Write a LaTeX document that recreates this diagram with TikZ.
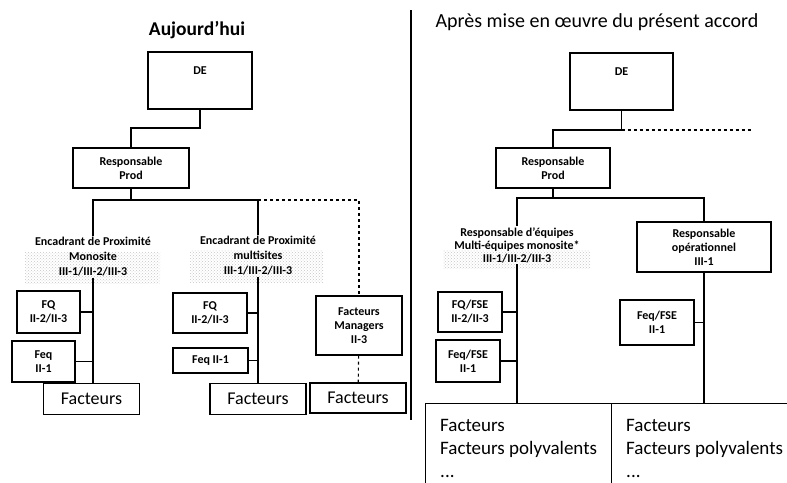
\documentclass[tikz,border=0pt]{standalone}
\usepackage{fontspec}
\setmainfont{Carlito}
\usetikzlibrary{patterns}

\tikzset{
  box/.style={draw, line width=1.3pt, align=center, inner sep=1pt,
    font=\bfseries\fontsize{12}{14}\selectfont},
  lbl/.style={align=center, inner sep=1pt, font=\bfseries\fontsize{12}{15}\selectfont},
  dots/.style={pattern=crosshatch dots, pattern color=gray!45},
  fact/.style={draw, line width=1.3pt, minimum width=96pt, minimum height=31pt,
    font=\fontsize{18}{20}\selectfont},
  team/.style={draw, line width=1.3pt, anchor=north west, align=left,
    inner xsep=7pt, inner ysep=4pt, font=\fontsize{19}{23}\selectfont},
  link/.style={line width=1.1pt}
}

\begin{document}
\begin{tikzpicture}[x=1pt,y=-1pt]
\useasboundingbox (0,0) rectangle (787,482);

% Aujourd'hui
\node (title1) at (197,30) {\bfseries\fontsize{19.5}{22}\selectfont Aujourd’hui};
\node[box, minimum width=104pt, minimum height=57pt] (de1) at (200,80.5) {DE\\[6pt]};
\node[box, minimum width=116pt, minimum height=40pt] (rp1) at (131,168) {Responsable\\Prod};
\fill[dots] (25,252) rectangle (160,283);
\fill[dots] (190,250) rectangle (323,282);
\node[lbl] (enc1) at (93,257) {Encadrant de Proximité\\Monosite\\III-1/III-2/III-3};
\node[lbl] (enc2) at (258,256) {Encadrant de Proximité\\multisites\\III-1/III-2/III-3};
\node[box, minimum width=63pt, minimum height=42pt] (fq1) at (48.5,312) {FQ\\II-2/II-3};
\node[box, minimum width=63pt, minimum height=41pt] (feq1) at (43.5,361.5) {Feq\\II-1};
\node[box, minimum width=74pt, minimum height=40pt] (fq2) at (210,313) {FQ\\II-2/II-3};
\node[box, minimum width=75pt, minimum height=25pt] (feq2) at (210.5,360.5) {Feq II-1};
\node[box, minimum width=86pt, minimum height=59pt] (mgr) at (359,325.5) {Facteurs\\Managers\\II-3};
\node[fact] (fact1) at (91.5,399) {Facteurs};
\node[fact] (fact2) at (258,399) {Facteurs};
\node[fact, minimum height=30pt] (fact3) at (358,398) {Facteurs};

\coordinate (b1) at (131,128);
\coordinate (b2) at (131,200);
\draw[link] (de1.south) |- (b1) -- (rp1);
\draw[link] (rp1) -- (b2);
\draw[link] (b2) -| (enc1);
\draw[link] (b2) -| (enc2);
\draw[link, dashed] (enc2 |- b2) -| (mgr);
\draw[link] (enc1) -- (enc1 |- fact1.north);
\draw[link] (enc2) -- (enc2 |- fact2.north);
\draw[link] (fq1) -- (fq1 -| enc1);
\draw[link] (feq1) -- (feq1 -| enc1);
\draw[link] (fq2) -- (fq2 -| enc2);
\draw[link] (feq2) -- (feq2 -| enc2);
\draw[link, dashed] (mgr) -- (fact3);

\draw[line width=2.5pt] (411,10) -- (411,420);

% Apres mise en oeuvre
\node (title2) at (597,22) {\fontsize{20}{22}\selectfont Après mise en œuvre du présent accord};
\node[box, minimum width=103pt, minimum height=57pt] (de2) at (621.5,81.5) {DE\\[6pt]};
\node[box, minimum width=114pt, minimum height=40pt] (rp2) at (553,168) {Responsable\\Prod};
\fill[dots] (443,250) rectangle (590,268);
\node[lbl, font=\bfseries\fontsize{12}{13}\selectfont] (resp) at (517,245) {Responsable d’équipes\\Multi-équipes monosite*\\III-1/III-2/III-3};
\node[box, minimum width=134pt, minimum height=50pt] (rop) at (704,247) {Responsable\\opérationnel\\III-1};
\node[box, minimum width=64pt, minimum height=40pt] (fqfse) at (470,312) {FQ/FSE\\II-2/II-3};
\node[box, minimum width=64pt, minimum height=42pt] (feqfse1) at (468,361) {Feq/FSE\\II-1};
\node[box, minimum width=74pt, minimum height=45pt] (feqfse2) at (657,322.5) {Feq/FSE\\II-1};
\node[team, minimum width=186pt, minimum height=90pt] (equ1) at (425,403) {Facteurs\\Facteurs polyvalents\\...};
\node[team, minimum width=186pt, minimum height=90pt] (equ2) at (611,403) {Facteurs\\Facteurs polyvalents\\...};

\coordinate (c1) at (553,130);
\coordinate (c2) at (553,198);
\coordinate (cend) at (752,130);
\draw[link] (de2.south) |- (c1) -- (rp2);
\draw[link, dashed] (de2 |- c1) -- (cend);
\draw[link] (rp2) -- (c2);
\draw[link] (c2) -| (resp);
\draw[link] (c2) -| (rop);
\draw[link] (resp) -- (resp |- equ1.north);
\draw[link] (rop) -- (rop |- equ2.north);
\draw[link] (fqfse) -- (fqfse -| resp);
\draw[link] (feqfse1) -- (feqfse1 -| resp);
\draw[link] (feqfse2) -- (feqfse2 -| rop);
\end{tikzpicture}
\end{document}
